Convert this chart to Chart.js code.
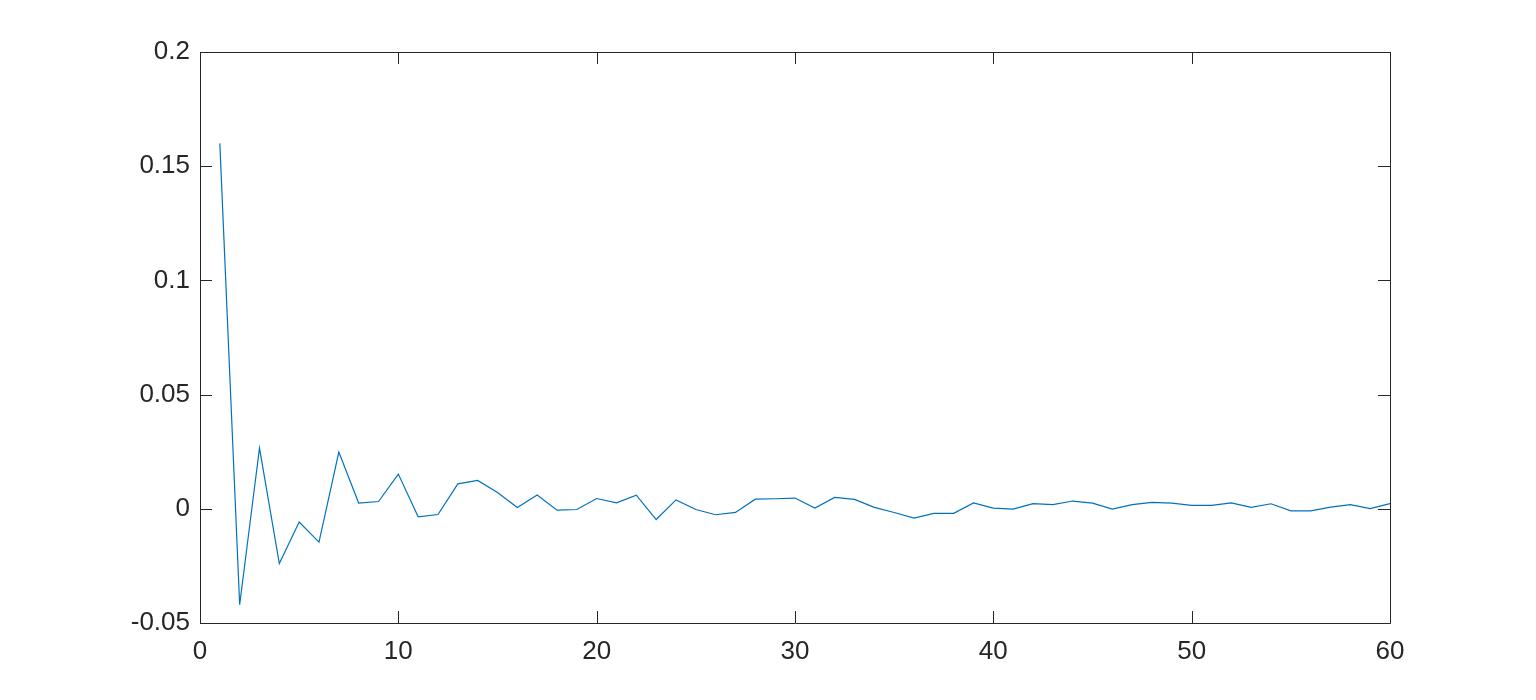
<!DOCTYPE html>
<html>
<head>
<meta charset="utf-8">
<script src="https://cdn.jsdelivr.net/npm/chart.js@4.4.1/dist/chart.umd.min.js"></script>
<style>
  html, body { margin: 0; padding: 0; background: #fff; }
  #wrap { width: 1536px; height: 700px; }
</style>
</head>
<body>
<div id="wrap"><canvas id="linechart"></canvas></div>
<script>
// lag index and values
const xValues = [1,2,3,4,5,6,7,8,9,10,11,12,13,14,15,16,17,18,19,20,
	21,22,23,24,25,26,27,28,29,30,31,32,33,34,35,36,37,38,39,40,
	41,42,43,44,45,46,47,48,49,50,51,52,53,54,55,56,57,58,59,60];
const yValues = [0.160,-0.042,0.0266,-0.024,-0.0058,-0.0146,0.0248,0.0025,0.0032,0.0152,
	-0.0035,-0.0025,0.0109,0.0124,0.0071,0.0006,0.0060,-0.0006,-0.0003,0.0045,
	0.0026,0.0060,-0.0047,0.0039,-0.0003,-0.0026,-0.0016,0.0042,0.0044,0.0047,
	0.0003,0.0050,0.0041,0.0006,-0.0016,-0.0041,-0.0020,-0.0020,0.0026,0.0003,
	-0.0001,0.0023,0.0018,0.0034,0.0025,-0.0001,0.0018,0.0028,0.0025,0.0015,
	0.0015,0.0026,0.0006,0.0022,-0.0009,-0.0009,0.0007,0.0018,0.0001,0.0023];
const xTickLabels = ['0','10','20','30','40','50','60'];
const yTickLabels = ['-0.05','0','0.05','0.1','0.15','0.2'];

// MATLAB-style box with inward ticks on all four sides
const boxTicks = {
	id: 'boxTicks',
	afterDraw(chart) {
		const ctx = chart.ctx;
		const a = chart.chartArea;
		const xs = chart.scales.x, ys = chart.scales.y;
		const len = 12;
		ctx.save();
		ctx.strokeStyle = '#262626';
		ctx.lineWidth = 1;
		ctx.beginPath();
		ctx.rect(Math.round(a.left) + 0.5, Math.round(a.top) + 0.5,
			Math.round(a.right - a.left), Math.round(a.bottom - a.top));
		xs.ticks.forEach(t => {
			const px = Math.round(xs.getPixelForValue(t.value)) + 0.5;
			ctx.moveTo(px, a.bottom); ctx.lineTo(px, a.bottom - len);
			ctx.moveTo(px, a.top); ctx.lineTo(px, a.top + len);
		});
		ys.ticks.forEach(t => {
			const py = Math.round(ys.getPixelForValue(t.value)) + 0.5;
			ctx.moveTo(a.left, py); ctx.lineTo(a.left + len, py);
			ctx.moveTo(a.right, py); ctx.lineTo(a.right - len, py);
		});
		ctx.stroke();
		ctx.restore();
	}
};

new Chart(document.getElementById("linechart"), {
	type: 'line',
	data: {
		datasets: [{
			data: xValues.map((x, i) => ({x: x, y: yValues[i]})),
			borderColor: "#0072BD",
			borderWidth: 1.2,
			pointRadius: 0,
			tension: 0,
			fill: false
		}]
	},
	options: {
		responsive: true,
		maintainAspectRatio: false,
		animation: false,
		layout: { padding: { top: 52, right: 146, left: 0, bottom: 0 } },
		plugins: {
			legend: { display: false },
			tooltip: { enabled: false }
		},
		scales: {
			x: {
				type: 'linear',
				min: 0, max: 60,
				grid: { display: false },
				border: { display: false },
				afterFit: s => { s.height = 77; },
				ticks: {
					stepSize: 10,
					padding: 5,
					color: '#262626',
					maxRotation: 0,
					font: { family: 'Liberation Sans, Arial', size: 26 },
					callback: (v, i) => xTickLabels[i]
				}
			},
			y: {
				min: -0.05, max: 0.2,
				grid: { display: false },
				border: { display: false },
				afterFit: s => { s.width = 200; },
				ticks: {
					stepSize: 0.05,
					padding: 2,
					color: '#262626',
					font: { family: 'Liberation Sans, Arial', size: 26 },
					callback: (v, i) => yTickLabels[i]
				}
			}
		}
	},
	plugins: [boxTicks]
});
</script>
</body>
</html>
